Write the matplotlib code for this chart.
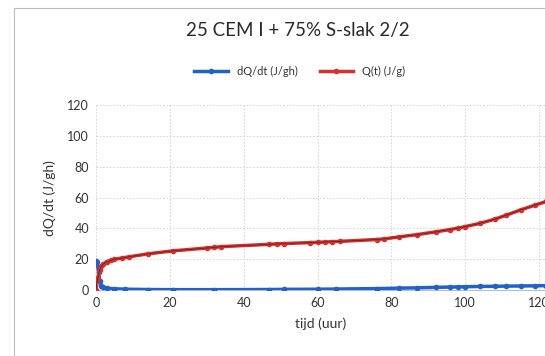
import matplotlib.pyplot as plt
from matplotlib.patches import Rectangle

# Data
t_q = [0, 0.5, 1, 1.5, 2, 3, 4, 5, 7, 9, 14, 21, 30, 32, 34, 47, 49, 51,
       58, 60, 62, 64, 66, 76, 78, 82, 87, 92, 96, 98, 100, 104, 108, 111,
       115, 119, 122]
q = [0, 8, 13, 15.5, 17, 18.5, 19.3, 20, 20.8, 21.6, 23.5, 25.5, 27.3, 27.7,
     28.2, 29.7, 30, 30.2, 30.8, 31, 31.2, 31.4, 31.6, 32.8, 33.2, 34.5, 36,
     37.8, 39.3, 40.2, 41.2, 43.3, 46, 48.5, 52, 55.2, 57.5]

t_dq = [0, 0.3, 0.7, 1, 1.5, 2, 3, 5, 8, 14, 21, 32, 47, 51, 60, 65, 76, 82,
        87, 92, 96, 98, 100, 104, 108, 111, 115, 119, 122]
dq = [19, 18, 12, 6, 3, 1.8, 1.2, 0.9, 0.6, 0.4, 0.3, 0.3, 0.4, 0.5, 0.6,
      0.7, 1.0, 1.3, 1.5, 1.8, 2.0, 2.1, 2.2, 2.4, 2.5, 2.6, 2.7, 2.8, 2.9]

title = '25 CEM I + 75% S-slak 2/2'
xticks = [0, 20, 40, 60, 80, 100, 120]
yticks = [0, 20, 40, 60, 80, 100, 120]

plt.rcParams['font.family'] = ['Lato', 'DejaVu Sans']

fig = plt.figure(figsize=(5.45, 3.56), dpi=100)
ax = fig.add_axes([0.176, 0.185, 0.824, 0.52])

blue = '#1f63c6'
red = '#d8302c'
ax.plot(t_dq, dq, color=blue, lw=2.5, marker='o', ms=3, label='dQ/dt (J/gh)', zorder=3)
ax.plot(t_q, q, color=red, lw=2.5, marker='o', ms=3, label='Q(t) (J/g)', zorder=3)
ax.plot(t_q, q, color='#5a2020', lw=0.5, zorder=4)

ax.set_xlim(0, 121.6)
ax.set_ylim(0, 120)
ax.set_xticks(xticks)
ax.set_yticks(yticks)
ax.grid(True, color='#d0d0d0', linestyle=(0, (2, 2)), linewidth=0.6)
ax.set_axisbelow(True)
for s in ['top', 'right', 'left']:
    ax.spines[s].set_visible(False)
ax.spines['bottom'].set_color('#bbbbbb')
ax.tick_params(length=0, labelsize=9, colors='#333333', pad=5)

ax.set_xlabel('tijd (uur)', fontsize=10, color='#333333', labelpad=6)
ax.set_ylabel('dQ/dt (J/gh)', fontsize=10, color='#333333', labelpad=8)

fig.text(0.547, 0.915, title, ha='center', va='center', fontsize=13.5, color='#2a2a2a')
fig.legend(loc='center', bbox_to_anchor=(0.55, 0.80), ncol=2, frameon=False,
           fontsize=8, handlelength=3, columnspacing=2, labelcolor='#333333')

# chart frame
fig.patches.append(Rectangle((14 / 545, -0.1), 1.2, 1 - 8 / 356 + 0.1,
                             transform=fig.transFigure, fill=False,
                             edgecolor='#bbbbbb', lw=0.8))

fig.savefig('out.png', dpi=100)
